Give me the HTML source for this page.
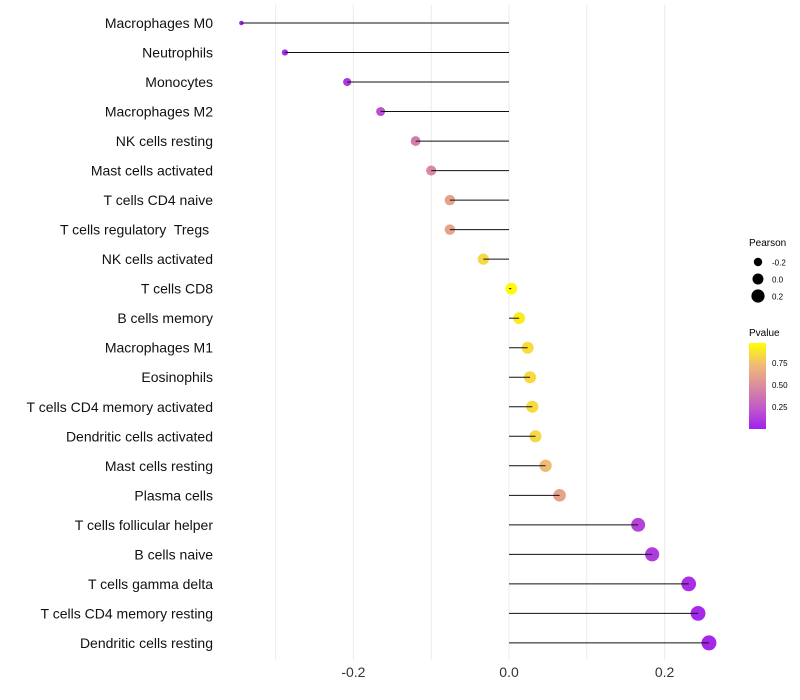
<!DOCTYPE html>
<html><head><meta charset="utf-8"><style>
body{margin:0;background:#fff;}
svg{display:block;font-family:"Liberation Sans",Arial,sans-serif;}
#labels text{white-space:pre;}
</style></head><body>
<svg id="chart" width="800" height="700">
<defs>
<linearGradient id="pg" x1="0" y1="1" x2="0" y2="0">
<stop offset="0" stop-color="#A020F0"/>
<stop offset="0.25" stop-color="#C25AC9"/>
<stop offset="0.5" stop-color="#DB8C9E"/>
<stop offset="0.75" stop-color="#F0BC74"/>
<stop offset="1" stop-color="#FFFF00"/>
</linearGradient>
</defs>
<g id="grid"></g>
<g id="marks"></g>
<g id="labels"></g>
<g id="xt"></g>
<g>
<text x="749" y="246" font-size="10" fill="#000">Pearson</text>
<circle cx="758" cy="262" r="4.2" fill="#000"/>
<text x="772" y="265.5" font-size="8" fill="#000">-0.2</text>
<circle cx="758" cy="279" r="5.5" fill="#000"/>
<text x="772" y="282.5" font-size="8" fill="#000">0.0</text>
<circle cx="758" cy="296" r="6.6" fill="#000"/>
<text x="772" y="299.5" font-size="8" fill="#000">0.2</text>
</g>
<g>
<text x="749" y="336" font-size="10" fill="#000">Pvalue</text>
<rect x="749" y="343" width="17" height="86" fill="url(#pg)"/>
<text x="772" y="366" font-size="8" fill="#000">0.75</text>
<text x="772" y="388" font-size="8" fill="#000">0.50</text>
<text x="772" y="410" font-size="8" fill="#000">0.25</text>
</g>
</svg>
<script>
const categories = ["Macrophages M0","Neutrophils","Monocytes","Macrophages M2","NK cells resting","Mast cells activated","T cells CD4 naive","T cells regulatory  Tregs ","NK cells activated","T cells CD8","B cells memory","Macrophages M1","Eosinophils","T cells CD4 memory activated","Dendritic cells activated","Mast cells resting","Plasma cells","T cells follicular helper","B cells naive","T cells gamma delta","T cells CD4 memory resting","Dendritic cells resting"];
const pearson = [-0.344,-0.288,-0.208,-0.165,-0.120,-0.100,-0.076,-0.076,-0.033,0.003,0.013,0.024,0.027,0.030,0.034,0.047,0.065,0.166,0.184,0.231,0.243,0.257];
const pvalue = [0.02,0.05,0.1,0.2,0.42,0.48,0.62,0.62,0.85,0.99,0.93,0.87,0.86,0.86,0.85,0.75,0.62,0.15,0.12,0.06,0.04,0.03];
const xTicks = [-0.2,0,0.2];
const xGrid = [-0.3,-0.2,-0.1,0,0.1,0.2];

const NS="http://www.w3.org/2000/svg";
const x = v => 509 + v*778;
const y = i => 23 + i*29.52;
const minV=Math.min(...pearson), maxV=Math.max(...pearson);
const rad = v => Math.sqrt(5 + (v-minV)/(maxV-minV)*(56-5));
const stops=[[0,[160,32,240]],[0.25,[194,90,201]],[0.5,[219,140,158]],[0.75,[240,188,116]],[1,[255,255,0]]];
function col(p){for(let k=0;k<stops.length-1;k++){const a=stops[k],b=stops[k+1];if(p<=b[0]){const t=(p-a[0])/(b[0]-a[0]);return 'rgb('+a[1].map((c,j)=>Math.round(c+(b[1][j]-c)*t)).join(',')+')';}}return 'rgb(255,255,0)';}
function mk(tag,attrs,parent){const e=document.createElementNS(NS,tag);for(const k in attrs)e.setAttribute(k,attrs[k]);parent.appendChild(e);return e;}
const grid=document.getElementById('grid'),marks=document.getElementById('marks'),labels=document.getElementById('labels'),xt=document.getElementById('xt');
xGrid.forEach(g=>{const l=mk('line',{x1:x(g),x2:x(g),y1:5,y2:660,stroke:'#ebebeb','stroke-width':1},grid);

});
xTicks.forEach(t=>{const e=mk('text',{x:x(t),y:677,'text-anchor':'middle','font-size':14,fill:'#333'},xt);e.textContent=t===0?'0.0':t.toFixed(1);

});
categories.forEach((c,i)=>{
const cy=y(i);
const pt=mk('circle',{cx:x(pearson[i]),cy:cy,r:rad(pearson[i]),fill:col(pvalue[i])},marks);


const ln=mk('line',{x1:x(0),x2:x(pearson[i]),y1:cy,y2:cy,stroke:'#111','stroke-width':1},marks);


const t=mk('text',{x:213,y:cy+5,'text-anchor':'end','font-size':14,fill:'#111'},labels);t.textContent=c;


});
</script>
</body></html>
